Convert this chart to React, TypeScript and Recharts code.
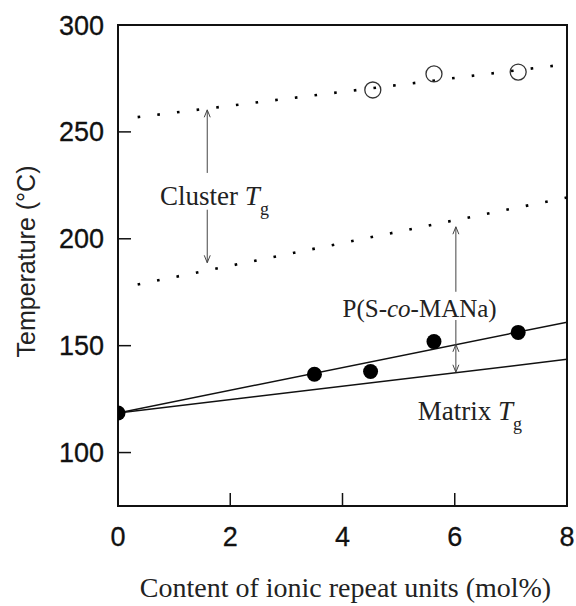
import React from 'react';
import {
  ComposedChart,
  Line,
  Scatter,
  XAxis,
  YAxis,
  ReferenceArea,
  ReferenceLine,
  ReferenceDot,
  Label,
} from 'recharts';

// ---- data ----
const xTicks = [0, 2, 4, 6, 8];
const yTicks = [100, 150, 200, 250, 300];

// filled circles: matrix Tg of P(S-co-MANa)
const matrixTgPoints = [
  { x: 0, y: 118.5 },
  { x: 3.5, y: 136.6 },
  { x: 4.5, y: 137.9 },
  { x: 5.63, y: 151.9 },
  { x: 7.13, y: 156.2 },
];
// open circles: cluster Tg
const clusterTgPoints = [
  { x: 4.54, y: 269.6 },
  { x: 5.63, y: 277.1 },
  { x: 7.13, y: 278.0 },
];
// solid trend lines
const copolymerFit = [
  { x: 0, y: 118.5 },
  { x: 8, y: 161 },
];
const matrixFit = [
  { x: 0, y: 118.5 },
  { x: 8, y: 143.6 },
];
// dotted trend lines
const clusterUpperTrend = [
  { x: 0.35, y: 256.9 },
  { x: 8, y: 281.7 },
];
const clusterLowerTrend = [
  { x: 0.35, y: 178.6 },
  { x: 8, y: 219.3 },
];

// arrows (data coords): x, from, to, heads
const arrows = [
  { x: 1.59, from: 230.8, to: 260.3, heads: 'end' },
  { x: 1.59, from: 213.6, to: 188.8, heads: 'end' },
  { x: 6.02, from: 175.2, to: 205.6, heads: 'end' },
  { x: 6.02, from: 162.0, to: 150.6, heads: 'none' },
  { x: 6.02, from: 150.6, to: 137.6, heads: 'both' },
];

// annotation anchors (data coords, left/baseline)
const annotations = [
  { key: 'cluster', x: 0.75, y: 215.9 },
  { key: 'copolymer', x: 4.0, y: 163.6 },
  { key: 'matrix', x: 5.34, y: 115.4 },
];

const SANS = "'Liberation Sans', Arial, Helvetica, sans-serif";
const SERIF = "'Liberation Serif', 'Times New Roman', Times, serif";
const INK = '#111';

const head = (xa: number, ya: number, xb: number, yb: number, key: string) => {
  const dx = xa - xb;
  const dy = ya - yb;
  const len = Math.sqrt(dx * dx + dy * dy) || 1;
  const ux = dx / len;
  const uy = dy / len;
  const L = 8;
  const a = (22 * Math.PI) / 180;
  const c = Math.cos(a);
  const s = Math.sin(a);
  const p1x = xb + L * (ux * c - uy * s);
  const p1y = yb + L * (ux * s + uy * c);
  const p2x = xb + L * (ux * c + uy * s);
  const p2y = yb + L * (-ux * s + uy * c);
  return (
    <polyline
      key={key}
      points={`${p1x},${p1y} ${xb},${yb} ${p2x},${p2y}`}
      fill="none"
      stroke="#444"
      strokeWidth={1}
    />
  );
};

const makeArrowShape = (heads: string) => (p: any) => {
  const { x1, y1, x2, y2 } = p;
  return (
    <g>
      <line x1={x1} y1={y1} x2={x2} y2={y2} stroke="#444" strokeWidth={1} />
      {(heads === 'end' || heads === 'both') && head(x1, y1, x2, y2, 'e')}
      {(heads === 'start' || heads === 'both') && head(x2, y2, x1, y1, 's')}
    </g>
  );
};

const renderAnnotation = (key: string) => (p: any) => {
  const { cx, cy } = p;
  if (key === 'cluster') {
    return (
      <text x={cx} y={cy} fontFamily={SERIF} fontSize={27} fill="#222">
        Cluster{' '}
        <tspan fontStyle="italic">T</tspan>
        <tspan fontSize={18} dy={10}>g</tspan>
      </text>
    );
  }
  if (key === 'copolymer') {
    return (
      <text x={cx} y={cy} fontFamily={SERIF} fontSize={25} fill="#222">
        P(S-<tspan fontStyle="italic">co</tspan>-MANa)
      </text>
    );
  }
  return (
    <text x={cx} y={cy} fontFamily={SERIF} fontSize={27} fill="#222">
      Matrix{' '}
      <tspan fontStyle="italic">T</tspan>
      <tspan fontSize={18} dy={10}>g</tspan>
    </text>
  );
};

const filledDot = (p: any) => <circle cx={p.cx} cy={p.cy} r={7.5} fill="#000" />;
const openDot = (p: any) => (
  <circle cx={p.cx} cy={p.cy} r={8} fill="none" stroke="#333" strokeWidth={1.3} />
);

export default function App() {
  return (
    <div style={{ position: 'absolute', left: 0, top: 0, background: '#fff' }}>
      <ComposedChart
        width={576}
        height={606}
        margin={{ top: 25, right: 9, bottom: 0, left: 0 }}
      >
        <XAxis
          dataKey="x"
          type="number"
          domain={[0, 8]}
          ticks={xTicks}
          interval={0}
          allowDataOverflow
          height={100}
          axisLine={false}
          tickSize={-13}
          tickMargin={34}
          tickLine={{ stroke: INK, strokeWidth: 1.5 }}
          tick={{ fontSize: 27, fontFamily: SANS, fill: INK, stroke: INK, strokeWidth: 0.3 }}
        >
          <Label
            content={(props: any) => {
              const vb = props.viewBox || { x: 118, y: 506, width: 448 };
              return (
                <text
                  x={vb.x + vb.width / 2 + 3}
                  y={vb.y + 91}
                  textAnchor="middle"
                  fontFamily={SERIF}
                  fontSize={28}
                  fill="#222"
                >
                  Content of ionic repeat units (mol%)
                </text>
              );
            }}
          />
        </XAxis>
        <YAxis
          type="number"
          domain={[75, 300]}
          ticks={yTicks}
          interval={0}
          allowDataOverflow
          width={118}
          axisLine={false}
          tickSize={-13}
          tickMargin={27}
          tickLine={{ stroke: INK, strokeWidth: 1.5 }}
          tick={{ fontSize: 27, fontFamily: SANS, fill: INK, stroke: INK, strokeWidth: 0.3 }}
        >
          <Label
            content={(props: any) => {
              const vb = props.viewBox || { x: 0, y: 25, width: 118, height: 481 };
              const cx = 35;
              const cy = vb.y + vb.height / 2 - 4;
              return (
                <text
                  x={cx}
                  y={cy}
                  transform={`rotate(-90 ${cx} ${cy})`}
                  textAnchor="middle"
                  fontFamily={SANS}
                  fontSize={25}
                  fill="#222"
                >
                  Temperature (°C)
                </text>
              );
            }}
          />
        </YAxis>

        <ReferenceArea
          x1={0}
          x2={8}
          y1={75}
          y2={300}
          fill="none"
          stroke={INK}
          strokeWidth={2}
          ifOverflow="visible"
        />

        <Line
          data={clusterUpperTrend}
          dataKey="y"
          stroke="#000"
          strokeWidth={2.6}
          strokeDasharray="2.6 17.2"
          dot={false}
          activeDot={false}
          isAnimationActive={false}
        />
        <Line
          data={clusterLowerTrend}
          dataKey="y"
          stroke="#000"
          strokeWidth={2.6}
          strokeDasharray="2.6 17.2"
          dot={false}
          activeDot={false}
          isAnimationActive={false}
        />
        <Line
          data={copolymerFit}
          dataKey="y"
          stroke="#111"
          strokeWidth={1.5}
          dot={false}
          activeDot={false}
          isAnimationActive={false}
        />
        <Line
          data={matrixFit}
          dataKey="y"
          stroke="#111"
          strokeWidth={1.5}
          dot={false}
          activeDot={false}
          isAnimationActive={false}
        />

        {arrows.map((a, i) => (
          <ReferenceLine
            key={`arrow-${i}`}
            segment={[
              { x: a.x, y: a.from },
              { x: a.x, y: a.to },
            ]}
            stroke="#444"
            shape={makeArrowShape(a.heads)}
            ifOverflow="visible"
          />
        ))}

        <Scatter
          data={matrixTgPoints}
          dataKey="y"
          shape={filledDot}
          isAnimationActive={false}
        />
        <Scatter
          data={clusterTgPoints}
          dataKey="y"
          shape={openDot}
          isAnimationActive={false}
        />

        {annotations.map((a) => (
          <ReferenceDot
            key={a.key}
            x={a.x}
            y={a.y}
            r={0}
            ifOverflow="visible"
            shape={renderAnnotation(a.key)}
          />
        ))}
      </ComposedChart>
    </div>
  );
}
